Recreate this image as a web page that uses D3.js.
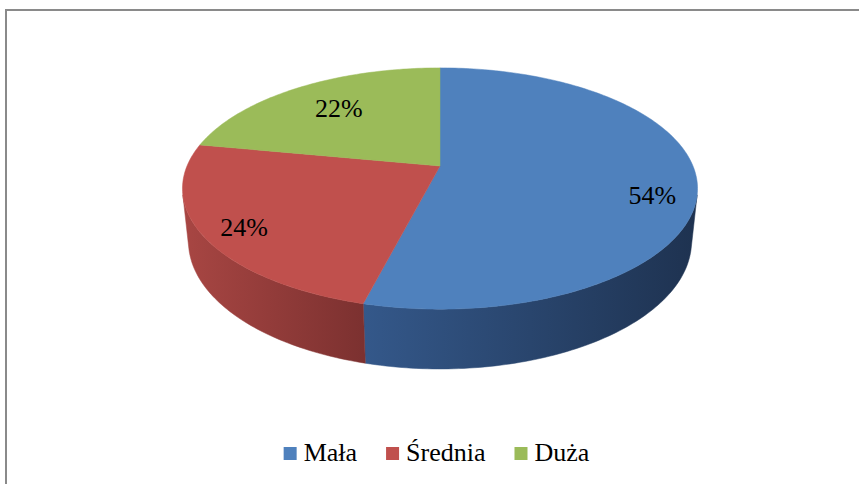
<!DOCTYPE html>
<html>
<head>
<meta charset="utf-8">
<script src="https://cdn.jsdelivr.net/npm/d3@7"></script>
<style>
  body { margin: 0; background: #fff; }
  svg { display: block; }
</style>
</head>
<body>
<svg id="chart"></svg>
<script>
const categories = ['Mała', 'Średnia', 'Duża'];
const shares = [54, 24, 22];
const percentLabels = ['54%', '24%', '22%'];

const topColors = ['#4f81bd', '#c0504d', '#9bbb59'];
const sideLight = ['#34588a', '#a84643', '#7f9a48'];
const sideDark = ['#1e3250', '#7c3130', '#5e7235'];

const svgWidth = 859;
const svgHeight = 484;
const serif = 'Liberation Serif';

const svg = d3.select('#chart')
    .attr('width', svgWidth)
    .attr('height', svgHeight);

// chart frame (runs off the right and bottom edges)
svg.append('rect')
    .attr('x', 6)
    .attr('y', 10)
    .attr('width', 900)
    .attr('height', 600)
    .attr('fill', 'none')
    .attr('stroke', '#8a8a8a')
    .attr('stroke-width', 2);

// perspective projection of the pie cylinder
const cx = 440, cy = 166;
const focal = 1203.6;
const radius = 0.2102;
const thickness = 0.0499;
const tilt = 27.4 * Math.PI / 180;
const cosT = Math.cos(tilt), sinT = Math.sin(tilt);

function project(theta, f, h) {
    const X = f * radius * Math.sin(theta);
    const Z = f * radius * Math.cos(theta);
    const depth = 1 + Z * cosT - h * sinT;
    return [cx + focal * X / depth, cy - focal * (Z * sinT + h * cosT) / depth];
}

function arcPoints(a0, a1, h) {
    const n = Math.max(2, Math.ceil(Math.abs(a1 - a0) / (Math.PI / 180)));
    return d3.range(n + 1).map(i => project(a0 + (a1 - a0) * i / n, 1, h));
}

const pie = d3.pie().sort(null).value(d => d);
const slices = pie(shares);
const color = d3.scaleOrdinal().domain(categories).range(topColors);

// side walls facing the viewer
const front0 = Math.acos(-radius / cosT);
const front1 = 2 * Math.PI - front0;
const defs = svg.append('defs');
const line = d3.line();

slices.forEach((s, i) => {
    const a0 = Math.max(s.startAngle, front0);
    const a1 = Math.min(s.endAngle, front1);
    if (a0 >= a1) return;
    const topEdge = arcPoints(a0, a1, 0);
    const bottomEdge = arcPoints(a1, a0, -thickness);
    const xs = topEdge.map(p => p[0]);
    const grad = defs.append('linearGradient')
        .attr('id', 'side' + i)
        .attr('gradientUnits', 'userSpaceOnUse')
        .attr('x1', d3.min(xs)).attr('x2', d3.max(xs))
        .attr('y1', 0).attr('y2', 0);
    grad.append('stop').attr('offset', 0).attr('stop-color', sideLight[i]);
    grad.append('stop').attr('offset', 1).attr('stop-color', sideDark[i]);
    svg.append('path')
        .attr('d', line(topEdge.concat(bottomEdge)) + 'Z')
        .attr('fill', 'url(#side' + i + ')')
        .attr('stroke', 'url(#side' + i + ')')
        .attr('stroke-width', 0.5);
});

// top faces
svg.selectAll('path.top')
    .data(slices)
    .enter().append('path')
    .attr('class', 'top')
    .attr('d', s => line([project(0, 0, 0)].concat(arcPoints(s.startAngle, s.endAngle, 0))) + 'Z')
    .attr('fill', (s, i) => color(categories[i]))
    .attr('stroke', (s, i) => color(categories[i]))
    .attr('stroke-width', 0.5);

// data labels
const labelRadius = [0.83, 0.84, 0.69];
const labelShift = [17, 4, -2];

svg.selectAll('text.pct')
    .data(slices)
    .enter().append('text')
    .attr('class', 'pct')
    .attr('x', (s, i) => project((s.startAngle + s.endAngle) / 2, labelRadius[i], 0)[0])
    .attr('y', (s, i) => project((s.startAngle + s.endAngle) / 2, labelRadius[i], 0)[1] + labelShift[i])
    .attr('dy', '0.35em')
    .attr('text-anchor', 'middle')
    .attr('font-family', serif)
    .attr('font-size', 26)
    .attr('fill', '#000')
    .text((s, i) => percentLabels[i]);

// legend
const legend = svg.append('g');
const box = 13, boxGap = 7, itemGap = 29;
let lx = 0;
categories.forEach((c, i) => {
    const item = legend.append('g').attr('transform', `translate(${lx},0)`);
    item.append('rect')
        .attr('x', 0).attr('y', -14)
        .attr('width', box).attr('height', box)
        .attr('fill', color(c));
    const t = item.append('text')
        .attr('x', box + boxGap)
        .attr('y', 0)
        .attr('font-family', serif)
        .attr('font-size', 26)
        .attr('fill', '#000')
        .text(c);
    lx += box + boxGap + t.node().getComputedTextLength() + itemGap;
});
const legendWidth = lx - itemGap;
legend.attr('transform', `translate(${436.5 - legendWidth / 2},461)`);
</script>
</body>
</html>
